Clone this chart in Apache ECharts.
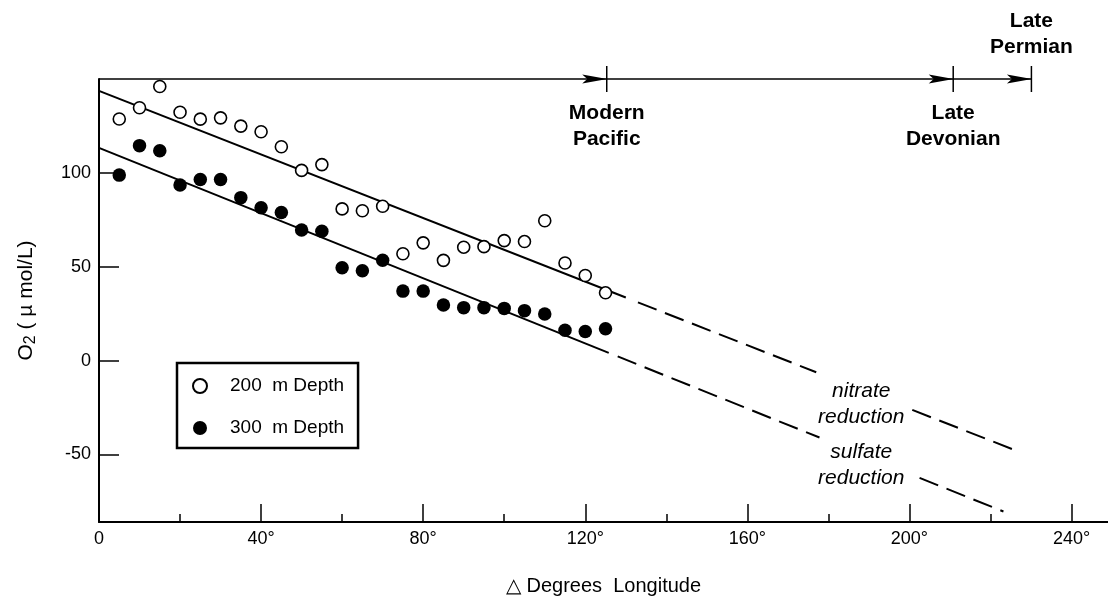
<!DOCTYPE html>
<html>
<head>
<meta charset="utf-8">
<script src="https://cdn.jsdelivr.net/npm/echarts@6/dist/echarts.min.js"></script>
<style>
  html, body { margin: 0; padding: 0; background: #fff; }
  #chart { width: 1108px; height: 601px; }
</style>
</head>
<body>
<div id="chart"></div>
<script>
// longitude offsets (deg) of the samples
const lon = [5, 10, 15, 20, 25, 30, 35, 40, 45, 50, 55, 60, 65, 70, 75, 80, 85, 90, 95, 100, 105, 110, 115, 120, 125]
const o2At200 = [128.7, 134.7, 146, 132.3, 128.6, 129.3, 124.9, 121.9, 113.9, 101.3, 104.4, 80.8, 79.8, 82.2, 56.9, 62.7, 53.4, 60.4, 60.7, 63.9, 63.4, 74.5, 52, 45.3, 36.1]
const o2At300 = [98.8, 114.5, 111.8, 93.5, 96.5, 96.5, 86.8, 81.4, 78.9, 69.6, 68.9, 49.5, 47.8, 53.4, 37, 37, 29.6, 28.2, 28.2, 27.8, 26.6, 24.8, 16.1, 15.5, 16.9]

// fitted trend lines, end points
const fit200Solid = [[0, 143.7], [130, 33.6]]
const fit200DashA = [[133, 31], [177, -6.2]]
const fit200DashB = [[200.7, -26.3], [227.2, -48.7]]
const fit300Solid = [[0, 113.3], [125.8, 4.1]]
const fit300DashA = [[128, 2.2], [177.8, -41]]
const fit300DashB = [[202.5, -62.5], [223.2, -80.4]]

// eras along the top arrow
const eraNames = ['Modern\nPacific', 'Late\nDevonian', 'Late\nPermian']
const eraLon = [125.3, 210.8, 230.1]

const zoneNames = ['nitrate\nreduction', 'sulfate\nreduction']
const zonePos = [[188.1, -23], [188.1, -55.5]]

const xMajor = [0, 40, 80, 120, 160, 200, 240]
const xMinor = [20, 60, 100, 140, 180, 220]
const yTicks = [-50, 0, 50, 100]

const xMin = 0
const xMax = 249
const yMin = -86
const yMax = 150

const name200 = '200  m Depth'
const name300 = '300  m Depth'
const font = '"Liberation Sans", Arial, Helvetica, sans-serif'

const chart = echarts.init(document.getElementById('chart'))

const fitLine = (data, dashed) => ({
  type: 'line',
  data,
  symbol: 'none',
  silent: true,
  z: 2,
  lineStyle: { color: '#000', width: 2, type: dashed ? [20, 9] : 'solid' },
})

const eraData = eraLon.map((x, i) => ({
  value: [x, yMax],
  label: {
    formatter: eraNames[i],
    position: i === 2 ? 'top' : 'bottom',
    distance: i === 2 ? 6 : 8,
  },
}))

const option = {
  animation: false,
  backgroundColor: '#fff',
  grid: { left: 99, right: 0, top: 79, bottom: 76, containLabel: false },
  legend: {
    data: [name200, name300],
    orient: 'vertical',
    left: 177,
    top: 363,
    padding: [13, 14, 10, 15],
    itemWidth: 14,
    itemHeight: 14,
    itemGap: 22,
    borderColor: '#000',
    borderWidth: 2.5,
    selectedMode: false,
    textStyle: { fontSize: 19, color: '#000', fontFamily: font, lineHeight: 20, padding: [0, 0, 0, 18] },
  },
  xAxis: [
    {
      type: 'value',
      position: 'bottom',
      min: xMin,
      max: xMax,
      splitLine: { show: false },
      axisLine: { onZero: false, lineStyle: { color: '#000', width: 2 } },
      axisTick: { inside: true, length: 18, customValues: xMajor, lineStyle: { color: '#000', width: 1.5 } },
      axisLabel: {
        customValues: xMajor,
        formatter: (v) => (v === 0 ? '0' : v + '°'),
        color: '#000',
        fontSize: 18,
        fontFamily: font,
        margin: 8,
      },
      name: '△ Degrees  Longitude',
      nameLocation: 'middle',
      nameGap: 54,
      nameTextStyle: { color: '#000', fontSize: 20, fontFamily: font },
    },
    {
      type: 'value',
      position: 'bottom',
      min: xMin,
      max: xMax,
      splitLine: { show: false },
      axisLine: { show: false, onZero: false },
      axisLabel: { show: false },
      axisTick: { inside: true, length: 8, customValues: xMinor, lineStyle: { color: '#000', width: 1.5 } },
    },
  ],
  yAxis: {
    type: 'value',
    min: yMin,
    max: yMax,
    splitLine: { show: false },
    axisLine: { onZero: false, lineStyle: { color: '#000', width: 2 } },
    axisTick: { inside: true, length: 20, customValues: yTicks, lineStyle: { color: '#000', width: 1.5 } },
    axisLabel: { customValues: yTicks, color: '#000', fontSize: 18, fontFamily: font, margin: 8 },
    name: '{a|O}{s|2}{a| ( µ mol/L)}',
    nameLocation: 'middle',
    nameGap: 60,
    nameTextStyle: {
      color: '#000',
      rich: {
        a: { fontSize: 21, fontFamily: font, color: '#000' },
        s: { fontSize: 16, fontFamily: font, color: '#000', padding: [10, 0, 0, 0] },
      },
    },
  },
  series: [
    fitLine(fit200Solid, false),
    fitLine(fit200DashA, true),
    fitLine(fit200DashB, true),
    fitLine(fit300Solid, false),
    fitLine(fit300DashA, true),
    fitLine(fit300DashB, true),
    {
      name: name200,
      type: 'scatter',
      data: lon.map((x, i) => [x, o2At200[i]]),
      symbol: 'circle',
      symbolSize: 12,
      z: 5,
      itemStyle: { color: '#fff', borderColor: '#000', borderWidth: 1.6, opacity: 1 },
    },
    {
      name: name300,
      type: 'scatter',
      data: lon.map((x, i) => [x, o2At300[i]]),
      symbol: 'circle',
      symbolSize: 13.5,
      z: 5,
      itemStyle: { color: '#000', opacity: 1 },
    },
    {
      // top arrow line
      type: 'line',
      data: [[0, yMax], [eraLon[eraLon.length - 1], yMax]],
      symbol: 'none',
      clip: false,
      silent: true,
      lineStyle: { color: '#000', width: 1.5 },
    },
    {
      // arrow heads
      type: 'scatter',
      data: eraLon.map((x) => [x, yMax]),
      symbol: 'path://M0,0 L25,4.5 L0,9 L5,4.5 Z',
      symbolSize: [25, 9],
      symbolOffset: [-12, 0],
      clip: false,
      silent: true,
      itemStyle: { color: '#000', opacity: 1 },
    },
    {
      // era ticks and labels
      type: 'scatter',
      data: eraData,
      symbol: 'rect',
      symbolSize: [1.5, 26],
      clip: false,
      silent: true,
      itemStyle: { color: '#000', opacity: 1 },
      label: {
        show: true,
        color: '#000',
        fontSize: 21,
        fontWeight: 'bold',
        fontFamily: font,
        lineHeight: 26,
        align: 'center',
      },
    },
    {
      // zone labels
      type: 'scatter',
      data: zonePos.map((p, i) => ({ value: p, label: { formatter: zoneNames[i] } })),
      symbolSize: 0,
      silent: true,
      itemStyle: { opacity: 1 },
      label: {
        show: true,
        position: 'inside',
        color: '#000',
        fontSize: 21,
        fontStyle: 'italic',
        fontFamily: font,
        lineHeight: 26,
        align: 'center',
      },
    },
  ],
}

chart.setOption(option)
</script>
</body>
</html>
